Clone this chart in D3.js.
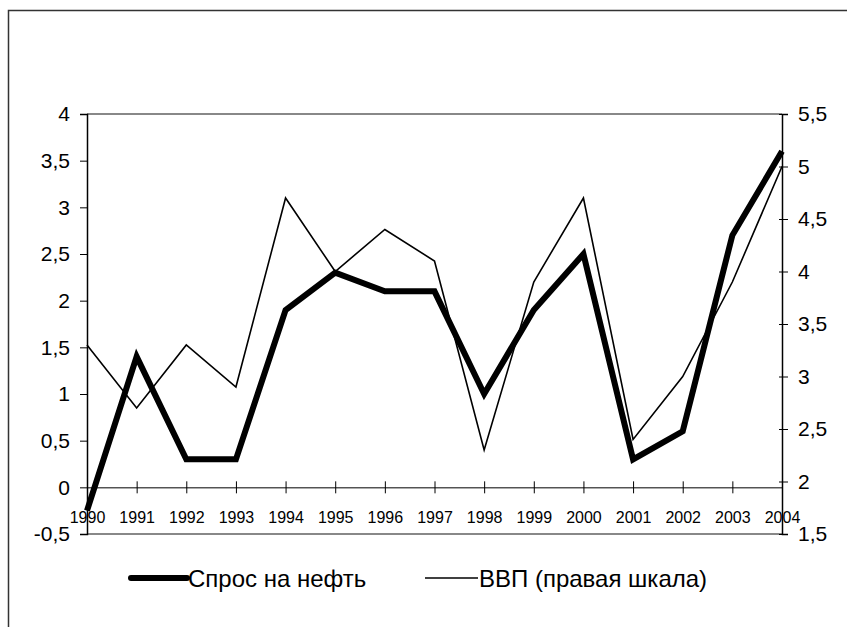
<!DOCTYPE html>
<html>
<head>
<meta charset="utf-8">
<script src="https://cdn.jsdelivr.net/npm/d3@7"></script>
<style>
  body { margin: 0; background: #fff; }
  svg { font-family: "Liberation Sans", Arial, sans-serif; }
</style>
</head>
<body>
<div id="chart"></div>
<script>
const years = ["1990", "1991", "1992", "1993", "1994", "1995", "1996", "1997",
               "1998", "1999", "2000", "2001", "2002", "2003", "2004"];
const oilDemand = [-0.25, 1.4, 0.3, 0.3, 1.9, 2.3, 2.1, 2.1, 1.0, 1.9, 2.5, 0.3, 0.6, 2.7, 3.6];
const gdp = [3.3, 2.7, 3.3, 2.9, 4.7, 4.0, 4.4, 4.1, 2.3, 3.9, 4.7, 2.4, 3.0, 3.9, 5.0];
const leftTicks = [-0.5, 0, 0.5, 1, 1.5, 2, 2.5, 3, 3.5, 4];
const rightTicks = [1.5, 2, 2.5, 3, 3.5, 4, 4.5, 5, 5.5];
const seriesNames = ["Спрос на нефть", "ВВП (правая шкала)"];

const W = 847, H = 627;
const plot = { left: 87, right: 782, top: 114, bottom: 534 };
const fmt = d => String(d).replace(".", ",");

const svg = d3.select("#chart").append("svg")
  .attr("width", W)
  .attr("height", H);

// outer frame (right and bottom edges fall outside the picture)
svg.append("rect")
  .attr("x", 8.5).attr("y", 10.5)
  .attr("width", W).attr("height", H)
  .attr("fill", "none")
  .attr("stroke", "#333")
  .attr("stroke-width", 1.5);

const x = d3.scalePoint()
  .domain(years)
  .range([plot.left, plot.right]);

const yL = d3.scaleLinear()
  .domain([-0.5, 4])
  .range([plot.bottom, plot.top]);

const yR = d3.scaleLinear()
  .domain([1.5, 5.5])
  .range([plot.bottom, plot.top]);

// plot area top / bottom border
[plot.top, plot.bottom].forEach(yy => {
  svg.append("line")
    .attr("x1", plot.left).attr("x2", plot.right)
    .attr("y1", yy).attr("y2", yy)
    .attr("stroke", "#888")
    .attr("stroke-width", 2);
});

// left axis
const gL = svg.append("g")
  .attr("transform", `translate(${plot.left},0)`)
  .call(d3.axisLeft(yL).tickValues(leftTicks).tickFormat(fmt).tickSize(7).tickPadding(10));
gL.selectAll("text").style("font-size", "21px").attr("fill", "#000");

// right axis
const gR = svg.append("g")
  .attr("transform", `translate(${plot.right},0)`)
  .call(d3.axisRight(yR).tickValues(rightTicks).tickFormat(fmt).tickSize(6).tickPadding(10));
gR.selectAll("text").style("font-size", "21px").attr("fill", "#000");
gR.selectAll(".tick line").attr("x1", -3);

[gL, gR].forEach(g => {
  g.select(".domain").attr("stroke", "#000").attr("stroke-width", 1.5);
  g.selectAll(".tick line").attr("stroke", "#000");
});

// category axis sitting on zero
const gX = svg.append("g")
  .attr("transform", `translate(0,${yL(0)})`)
  .call(d3.axisBottom(x).tickSize(5).tickSizeOuter(0).tickPadding(19));
gX.select(".domain").attr("stroke", "#000");
gX.selectAll(".tick line").attr("y1", -6).attr("y2", 6).attr("stroke", "#000");
gX.selectAll("text").style("font-size", "16px").attr("fill", "#000");

// series
const lineL = d3.line().x((d, i) => x(years[i])).y(d => yL(d));
const lineR = d3.line().x((d, i) => x(years[i])).y(d => yR(d));

svg.append("path")
  .datum(gdp)
  .attr("d", lineR)
  .attr("fill", "none")
  .attr("stroke", "#000")
  .attr("stroke-width", 1.6);

svg.append("path")
  .datum(oilDemand)
  .attr("d", lineL)
  .attr("fill", "none")
  .attr("stroke", "#000")
  .attr("stroke-width", 6)
  .attr("stroke-linejoin", "miter");

// legend
const legend = svg.append("g").attr("transform", "translate(0,578)");
legend.append("line")
  .attr("x1", 131).attr("x2", 187)
  .attr("stroke", "#000").attr("stroke-width", 6).attr("stroke-linecap", "round");
legend.append("text")
  .attr("x", 188).attr("y", 8.5)
  .style("font-size", "24px")
  .text(seriesNames[0]);
legend.append("line")
  .attr("x1", 425).attr("x2", 478)
  .attr("stroke", "#000").attr("stroke-width", 1.5);
legend.append("text")
  .attr("x", 479).attr("y", 8.5)
  .style("font-size", "24px")
  .text(seriesNames[1]);
</script>
</body>
</html>
